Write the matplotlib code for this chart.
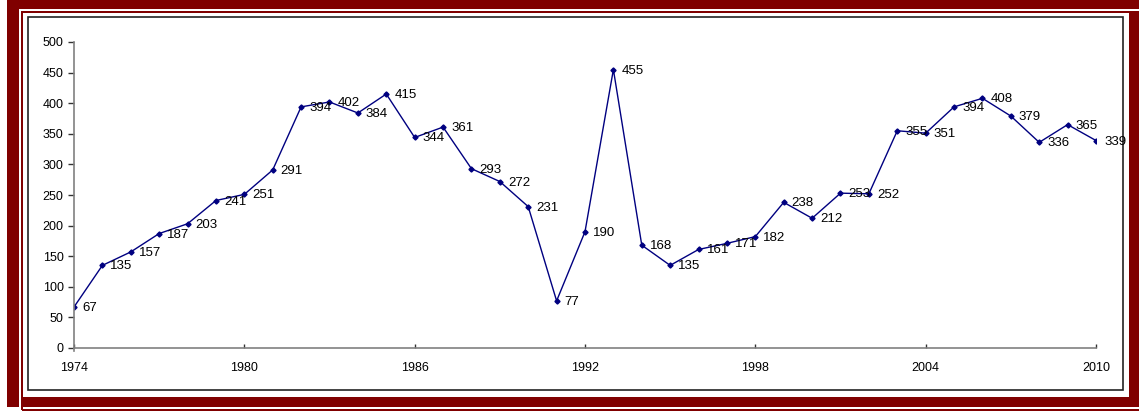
import numpy as np
import matplotlib.pyplot as plt
from matplotlib.patches import Rectangle

# data
years = list(range(1974, 2011))
values = [67, 135, 157, 187, 203, 241, 251, 291, 394, 402, 384, 415, 344, 361,
          293, 272, 231, 77, 190, 455, 168, 135, 161, 171, 182, 238, 212, 253,
          252, 355, 351, 394, 408, 379, 336, 365, 339]
xticks = [1974, 1980, 1986, 1992, 1998, 2004, 2010]
yticks = [0, 50, 100, 150, 200, 250, 300, 350, 400, 450, 500]

W, H = 1139, 416
dark_red = '#800000'

plt.rcParams['font.family'] = ['Liberation Sans', 'DejaVu Sans']

fig = plt.figure(figsize=(W / 100, H / 100), dpi=100)
fig.patch.set_facecolor('white')


# helper: rectangle from top-left based pixel coords
def px_rect(x0, y0, x1, y1, **kw):
    r = Rectangle((x0 / W, 1 - y1 / H), (x1 - x0) / W, (y1 - y0) / H,
                  transform=fig.transFigure, **kw)
    fig.patches.append(r)
    return r


lw2 = 2 * 72 / 100  # 2 px in points
# frame
px_rect(7, 0, 1139, 407, facecolor=dark_red, edgecolor='none', zorder=-5)
px_rect(19.5, 9.5, 1150, 408, facecolor='none', edgecolor='white', lw=lw2, zorder=-4)
px_rect(21.5, 11.5, 1150, 410, facecolor='none', edgecolor=dark_red, lw=lw2, zorder=-3)
px_rect(22.5, 12.5, 1129, 397, facecolor='white', edgecolor='none', zorder=-2)
px_rect(28, 17, 1123, 390, facecolor='none', edgecolor='#222222', lw=1.2, zorder=-1)

ax = fig.add_axes([74 / W, 1 - 348 / H, (1096 - 74) / W, (348 - 42) / H])
ax.patch.set_visible(False)

ax.plot(years, values, color='#000080', lw=1, marker='D', markersize=2.6,
        markerfacecolor='#000080', markeredgecolor='#000080')

for x, v in zip(years, values):
    ax.annotate(str(v), (x, v), xytext=(8, -1), textcoords='offset pixels',
                va='center', ha='left', fontsize=9.5, color='black')

ax.set_xlim(1974, 2010)
ax.set_ylim(0, 500)
ax.set_xticks(xticks)
ax.set_yticks(yticks)

for s in ['top', 'right']:
    ax.spines[s].set_visible(False)
for s in ['left', 'bottom']:
    ax.spines[s].set_color('#808080')
    ax.spines[s].set_linewidth(1.2)
ax.spines['left'].set_bounds(-5, 500)

ax.tick_params(axis='y', direction='out', length=4, width=1, color='#333333',
               pad=3.5, labelsize=9, labelcolor='black')
ax.tick_params(axis='x', direction='in', length=3, width=1, color='#333333',
               pad=10, labelsize=9, labelcolor='black')

fig.savefig('out.png', dpi=100)
